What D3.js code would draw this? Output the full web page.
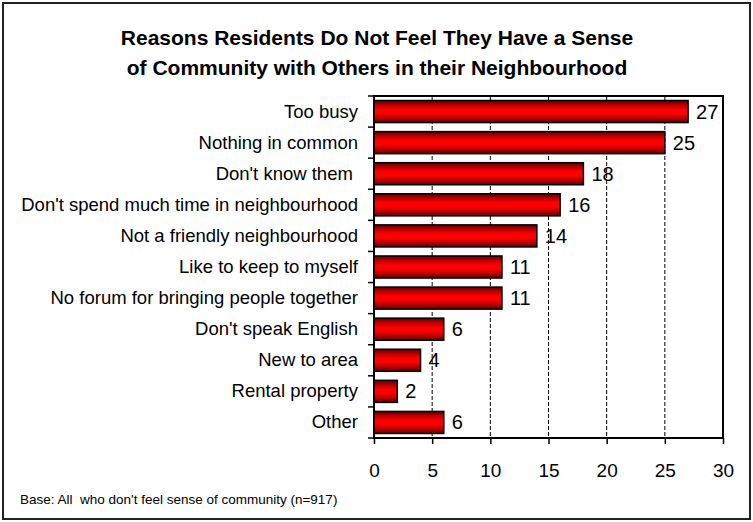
<!DOCTYPE html>
<html>
<head>
<meta charset="utf-8">
<script src="https://cdnjs.cloudflare.com/ajax/libs/d3/7.8.5/d3.min.js"></script>
<style>
  html, body { margin: 0; padding: 0; background: #fff; }
  svg { display: block; font-family: "Liberation Sans", Arial, sans-serif; }
</style>
</head>
<body>
<svg id="chart" width="753" height="522"></svg>
<script>
// Survey reasons (percent of respondents)
const categories = [
  "Too busy",
  "Nothing in common",
  "Don't know them ",
  "Don't spend much time in neighbourhood",
  "Not a friendly neighbourhood",
  "Like to keep to myself",
  "No forum for bringing people together",
  "Don't speak English",
  "New to area",
  "Rental property",
  "Other"
];
const values = [27, 25, 18, 16, 14, 11, 11, 6, 4, 2, 6];
const xTicks = [0, 5, 10, 15, 20, 25, 30];
const titleLines = [
  "Reasons Residents Do Not Feel They Have a Sense",
  "of Community with Others in their Neighbourhood"
];
const footnote = "Base: All  who don't feel sense of community (n=917)";

const svg = d3.select("#chart");
const W = 753, H = 522;
const plot = { left: 374, right: 723, top: 96, bottom: 438 };

// Outer frame
svg.append("rect")
  .attr("x", 3).attr("y", 3).attr("width", W - 6).attr("height", H - 6)
  .attr("fill", "#fff").attr("stroke", "#222").attr("stroke-width", 2);

// Title
svg.append("g").selectAll("text").data(titleLines).join("text")
  .attr("x", 377).attr("y", (d, i) => 45 + i * 30)
  .attr("text-anchor", "middle")
  .attr("font-weight", "bold").attr("font-size", 21)
  .attr("fill", "#000")
  .style("white-space", "pre")
  .text(d => d);

// Bar gradient: dark edges, bright red centre
const defs = svg.append("defs");
const grad = defs.append("linearGradient").attr("id", "barGrad")
  .attr("x1", 0).attr("y1", 0).attr("x2", 0).attr("y2", 1);
[[0, "#5a0000"], [0.2, "#b80000"], [0.42, "#ff0000"], [0.58, "#ff0000"], [0.8, "#b80000"], [1, "#5a0000"]]
  .forEach(([o, c]) => grad.append("stop").attr("offset", o).attr("stop-color", c));

const x = d3.scaleLinear().domain([0, 30]).range([plot.left, plot.right]);
const y = d3.scaleBand().domain(categories).range([plot.top, plot.bottom]).paddingInner(0.29).paddingOuter(0.145);
const yEdges = d3.scaleLinear().domain([0, categories.length]).range([plot.top, plot.bottom]);

// Dashed gridlines
svg.append("g").selectAll("line").data(xTicks.filter(t => t > 0 && t < 30)).join("line")
  .attr("x1", d => x(d)).attr("x2", d => x(d))
  .attr("y1", plot.top).attr("y2", plot.bottom)
  .attr("stroke", "#000").attr("stroke-width", 1).attr("stroke-dasharray", "4,2");

// Plot border
svg.append("rect")
  .attr("x", plot.left).attr("y", plot.top)
  .attr("width", plot.right - plot.left).attr("height", plot.bottom - plot.top)
  .attr("fill", "none").attr("stroke", "#000").attr("stroke-width", 2);

// Bars
svg.append("g").selectAll("rect").data(values).join("rect")
  .attr("x", x(0))
  .attr("y", (d, i) => y(categories[i]))
  .attr("width", d => x(d) - x(0))
  .attr("height", y.bandwidth())
  .attr("fill", "url(#barGrad)")
  .attr("stroke", "#000").attr("stroke-width", 1.5);

// Value labels
svg.append("g").selectAll("text").data(values).join("text")
  .attr("x", d => x(d) + 8)
  .attr("y", (d, i) => y(categories[i]) + y.bandwidth() / 2 + 7)
  .attr("font-size", 20).attr("fill", "#000")
  .text(d => d);

// Left axis: ticks at band edges, labels at band centres
svg.append("g").selectAll("line").data(d3.range(categories.length + 1)).join("line")
  .attr("x1", plot.left - 6).attr("x2", plot.left)
  .attr("y1", d => yEdges(d)).attr("y2", d => yEdges(d))
  .attr("stroke", "#000").attr("stroke-width", 1.5);

svg.append("g").selectAll("text").data(categories).join("text")
  .attr("x", 358)
  .attr("y", d => y(d) + y.bandwidth() / 2 + 6)
  .attr("text-anchor", "end")
  .attr("font-size", 18.5).attr("fill", "#000")
  .style("white-space", "pre")
  .text(d => d);

// Bottom axis
const xAxis = d3.axisBottom(x).tickValues(xTicks).tickSize(6).tickPadding(20);
const gx = svg.append("g").attr("transform", `translate(0,${plot.bottom})`).call(xAxis);
gx.select(".domain").remove();
gx.selectAll(".tick line").attr("stroke", "#000").attr("stroke-width", 1.5);
gx.selectAll(".tick text")
  .attr("font-family", "'Liberation Sans', Arial, sans-serif")
  .attr("font-size", 19).attr("fill", "#000");

// Footnote
svg.append("text")
  .attr("x", 20).attr("y", 504)
  .attr("font-size", 13.5).attr("fill", "#000")
  .style("white-space", "pre")
  .text(footnote);
</script>
</body>
</html>
